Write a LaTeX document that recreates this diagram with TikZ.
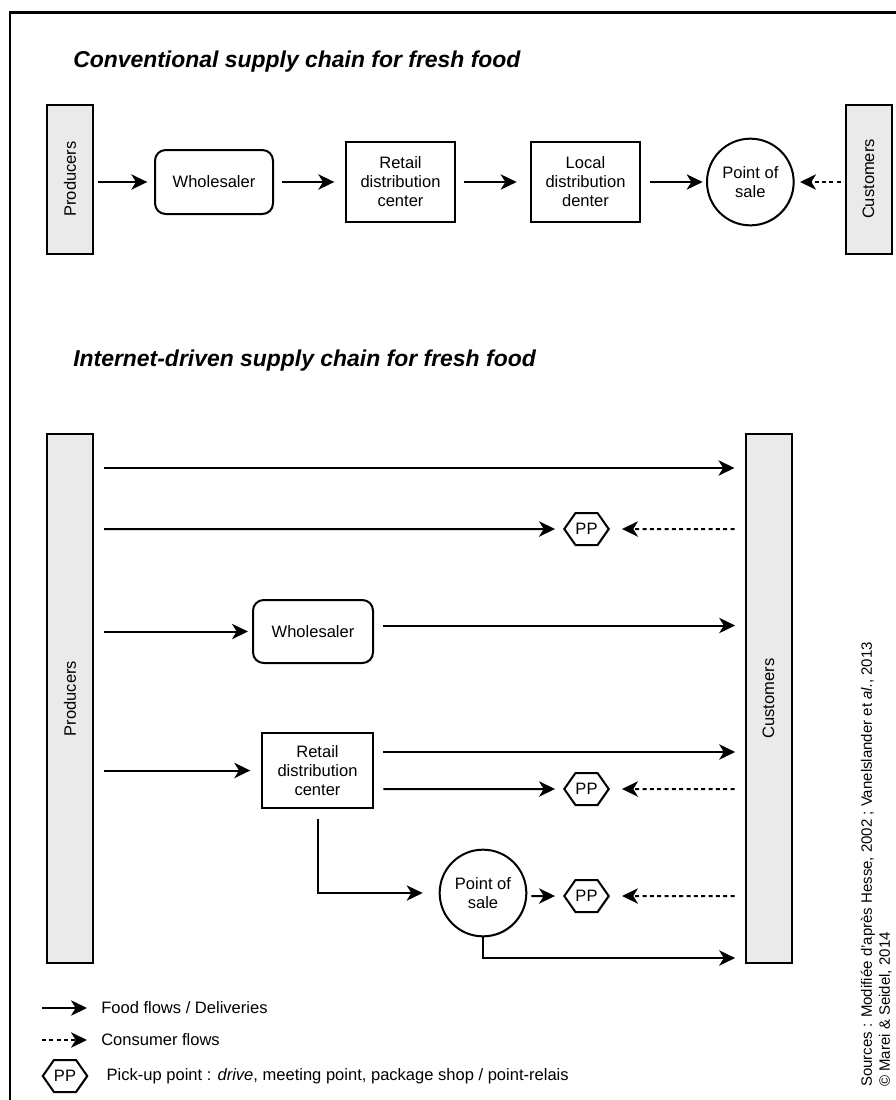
\documentclass[tikz,border=0pt]{standalone}
\usepackage{fontspec}
\setmainfont{Liberation Sans}
\usetikzlibrary{calc,positioning,arrows.meta,shapes.geometric,shapes.symbols,shadows}
\definecolor{barfill}{RGB}{234,234,234}

\begin{document}
\begin{tikzpicture}[
  x=0.75pt,y=-0.75pt,
  font=\fontsize{12.4}{14.3}\selectfont,
  soft_shadow/.style={drop shadow={shadow xshift=0.7pt,shadow yshift=-0.7pt,fill=black,opacity=0.25}},
  flow_arrow/.style={line width=1.5pt,-{Stealth[length=12pt,width=11.5pt,inset=3.5pt]}},
  consumer_arrow/.style={flow_arrow,dash pattern=on 3pt off 2.5pt},
  actor_bar/.style={rectangle,line width=1.5pt,draw=black,fill=barfill,minimum width=34.5pt,inner sep=0pt,soft_shadow},
  stock_box/.style={rectangle,line width=1.5pt,draw=black,fill=white,align=center,inner sep=0pt,minimum width=81.75pt,minimum height=60pt,soft_shadow},
  stock_round/.style={stock_box,rounded corners=8pt,minimum width=88.5pt,minimum height=48pt},
  sale_point/.style={circle,line width=1.5pt,draw=black,fill=white,align=center,inner sep=0pt,minimum size=65pt,soft_shadow},
  pickup/.style={signal,signal to=west and east,signal pointer angle=110,line width=1.5pt,draw=black,fill=white,minimum width=33pt,minimum height=24pt,inner sep=0pt,soft_shadow},
  chain_title/.style={font=\fontsize{17.2}{20}\selectfont\bfseries\itshape,anchor=base west,inner sep=0pt}
  ]
  \useasboundingbox (0,0) rectangle (896,1100);
  \draw[line width=1.7pt] (10,1100) -- (10,12.5) -- (896,12.5);

%conventional chain
  \node (title_conv) [chain_title] at (73,67) {Conventional supply chain for fresh food};

  \node (P_top) [actor_bar,minimum height=111.75pt] at (70,179) {\rotatebox{90}{Producers}};
  \node (Whole_top) [stock_round] at (214,182) {Wholesaler};
  \node (Retail_top) [stock_box,right=53.25pt of Whole_top] {Retail\\distribution\\center};
  \node (Local_top) [stock_box,right=55.5pt of Retail_top] {Local\\distribution\\denter};
  \node (Sale_top) [sale_point,right=48.75pt of Local_top] {Point of\\sale};
  \node (C_top) [actor_bar,minimum height=111.75pt] at (868.5,179) {\rotatebox{90}{Customers}};

  \draw[flow_arrow,shorten <=3pt,shorten >=5pt] (P_top.east |- Whole_top) -- (Whole_top);
  \draw[flow_arrow,shorten <=6pt,shorten >=8pt] (Whole_top) -- (Retail_top);
  \draw[flow_arrow,shorten <=6pt,shorten >=10pt] (Retail_top) -- (Local_top);
  \draw[flow_arrow,shorten <=7pt,shorten >=2.5pt] (Local_top) -- (Sale_top);
  \draw[consumer_arrow,shorten <=3pt,shorten >=4pt] (C_top.west |- Sale_top) -- (Sale_top);

%internet chain
  \node (title_net) [chain_title] at (73,366) {Internet-driven supply chain for fresh food};

  \node (P_net) [actor_bar,minimum height=396.75pt] at (70,698.5) {\rotatebox{90}{Producers}};
  \node (C_net) [actor_bar,minimum height=396.75pt] at (768.5,698.5) {\rotatebox{90}{Customers}};

  % direct delivery
  \coordinate (row_a) at (0,468);
  \draw[flow_arrow,shorten <=7.5pt,shorten >=7.5pt] (P_net.east |- row_a) -- (C_net.west |- row_a);

  % direct to pick-up point
  \node (PP_b) [pickup] at (586.5,529) {PP};
  \draw[flow_arrow,shorten <=7.5pt,shorten >=6pt] (P_net.east |- PP_b) -- (PP_b);
  \draw[consumer_arrow,shorten <=7.5pt,shorten >=9pt] (C_net.west |- PP_b) -- (PP_b);

  % via wholesaler
  \node (Whole_net) [stock_round,minimum width=90pt,minimum height=47.25pt] at (313,631.5) {Wholesaler};
  \coordinate (out_c) at ($(Whole_net.east)+(0,-6)$);
  \draw[flow_arrow,shorten <=7.5pt,shorten >=3pt] (P_net.east |- Whole_net) -- (Whole_net);
  \draw[flow_arrow,shorten <=7pt,shorten >=7pt] (out_c) -- (C_net.west |- out_c);

  % via retail distribution center
  \node (Retail_net) [stock_box,minimum width=83.25pt,minimum height=56.25pt] at (317.5,770.5) {Retail\\distribution\\center};
  \node (PP_d) [pickup] at (586.5,789) {PP};
  \coordinate (out_d) at ($(Retail_net.east)+(0,-18.5)$);
  \draw[flow_arrow,shorten <=7.5pt,shorten >=8pt] (P_net.east |- Retail_net) -- (Retail_net);
  \draw[flow_arrow,shorten <=7pt,shorten >=7pt] (out_d) -- (C_net.west |- out_d);
  \draw[flow_arrow,shorten <=7pt,shorten >=6pt] (Retail_net.east |- PP_d) -- (PP_d);
  \draw[consumer_arrow,shorten <=7.5pt,shorten >=9pt] (C_net.west |- PP_d) -- (PP_d);

  % via point of sale
  \node (Sale_net) [sale_point] at (483,893) {Point of\\sale};
  \node (PP_e) [pickup] at (586.5,896) {PP};
  \coordinate (row_f) at (0,958);
  \draw[flow_arrow,shorten <=7.5pt,shorten >=12pt] (Retail_net.south) |- (Sale_net);
  \draw[flow_arrow,shorten <=3pt,shorten >=6pt] (Sale_net.east |- PP_e) -- (PP_e);
  \draw[consumer_arrow,shorten <=7.5pt,shorten >=9pt] (C_net.west |- PP_e) -- (PP_e);
  \draw[flow_arrow,shorten >=7pt] (Sale_net.south) |- (C_net.west |- row_f);

%legend
  \coordinate (key_food_a) at (42,1008);
  \coordinate (key_food_b) at (87,1008);
  \coordinate (key_cons_a) at (42,1040);
  \coordinate (key_cons_b) at (87,1040);
  \draw[flow_arrow] (key_food_a) -- (key_food_b);
  \draw[consumer_arrow] (key_cons_a) -- (key_cons_b);
  \node (key_food) [anchor=west,inner sep=0pt] at (101,1008) {Food flows / Deliveries};
  \node (key_cons) [anchor=west,inner sep=0pt] at (101,1040) {Consumer flows};
  \node (key_pp) [pickup] at (65,1076) {PP};
  \node (key_pp_text) [right=13.5pt of key_pp,inner sep=0pt] {Pick-up point : \textit{drive}, meeting point, package shop / point-relais};

%sources
  \node (source) [anchor=south west,inner sep=0pt,font=\fontsize{11.25}{13.5}\selectfont] at (859,1087)
    {\rotatebox{90}{\begin{tabular}{@{}l@{}}Sources : Modifiée d'après Hesse, 2002 ; Vanelslander et \textit{al.}, 2013\\© Marei \& Seidel, 2014\end{tabular}}};

\end{tikzpicture}
\end{document}
